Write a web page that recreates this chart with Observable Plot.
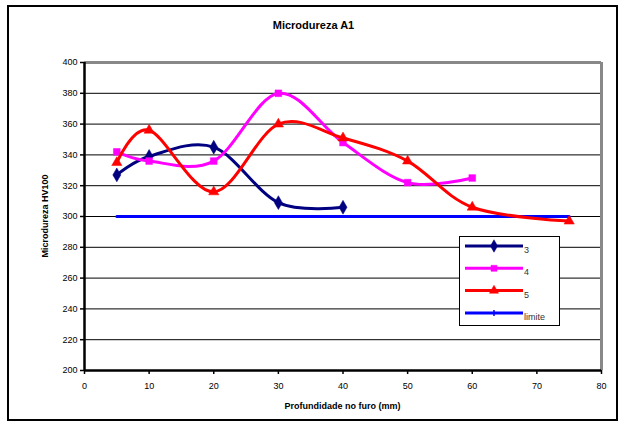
<!DOCTYPE html>
<html>
<head>
<meta charset="utf-8">
<script src="https://cdn.jsdelivr.net/npm/d3@7"></script>
<script src="https://cdn.jsdelivr.net/npm/@observablehq/plot@0.6"></script>
<style>
  body { margin: 0; background: #fff; font-family: "Liberation Sans", Arial, sans-serif; }
  #wrap { position: relative; width: 627px; height: 425px; overflow: hidden; background: #fff; }
  #frame { position: absolute; left: 7px; top: 5px; width: 611px; height: 416px; border: 2px solid #000; box-sizing: border-box; }
  #title { position: absolute; left: 0; top: 19px; width: 627px; text-align: center; font-weight: bold; font-size: 11px; }
  #ytitle { position: absolute; left: 45px; top: 216px; transform: translate(-50%, -50%) rotate(-90deg); white-space: nowrap; font-weight: bold; font-size: 9px; }
  #xtitle { position: absolute; left: 84px; width: 517px; top: 401px; text-align: center; font-weight: bold; font-size: 9px; }
  #chart { position: absolute; left: 0; top: 40px; }
  #legend { position: absolute; left: 459px; top: 236px; width: 101px; height: 90px; box-sizing: border-box; border: 1px solid #000; background: #fff; }
  #legend svg { display: block; }
</style>
</head>
<body>
<div id="wrap">
  <div id="frame"></div>
  <div id="title">Microdureza  A1</div>
  <div id="chart"></div>
  <div id="ytitle">Microdureza HV100</div>
  <div id="xtitle">Profundidade no furo (mm)</div>
  <div id="legend"></div>
</div>
<script>
// Depth along the bore (mm) and HV100 microhardness readings per specimen
const depth3 = [5, 10, 20, 30, 40];
const hv3    = [327, 339, 345, 309, 306];

const depth4 = [5, 10, 20, 30, 40, 50, 60];
const hv4    = [342, 336, 336, 380, 348, 322, 325];

const depth5 = [5, 10, 20, 30, 40, 50, 60, 75];
const hv5    = [335, 356, 316, 360, 351, 336, 306, 297];

// Reference limit
const depthLimit = [5, 10, 20, 30, 40, 50, 60, 75];
const hvLimit    = [300, 300, 300, 300, 300, 300, 300, 300];

const seriesNames = ["3", "4", "5", "limite"];
const seriesColors = ["#000080", "#ff00ff", "#ff0000", "#0000ff"];
const seriesSymbols = ["diamond", "square", "triangle", null];

const xTicks = [0, 10, 20, 30, 40, 50, 60, 70, 80];
const yTicks = [200, 220, 240, 260, 280, 300, 320, 340, 360, 380, 400];
const gridValues = [220, 240, 260, 280, 300, 320, 340, 360, 380];

const toRows = (xs, ys, name) => xs.map((d, i) => ({depth: d, hv: ys[i], serie: name}));
const s3 = toRows(depth3, hv3, "3");
const s4 = toRows(depth4, hv4, "4");
const s5 = toRows(depth5, hv5, "5");
const sL = toRows(depthLimit, hvLimit, "limite");

const lineOpts = (color) => ({x: "depth", y: "hv", stroke: color, strokeWidth: 3, curve: "cardinal"});
const dotOpts = (color, symbol, r) => ({x: "depth", y: "hv", fill: color, stroke: color, strokeWidth: 0.5, symbol, r});

const chart = Plot.plot({
  width: 627,
  height: 385,
  marginLeft: 84,
  marginRight: 26,
  marginTop: 22,
  marginBottom: 55,
  style: {fontFamily: "'Liberation Sans', Arial, sans-serif", fontSize: "9px", color: "#000", background: "transparent"},
  x: {domain: [0, 80]},
  y: {domain: [200, 400]},
  marks: [
    Plot.ruleY(gridValues, {stroke: "#000", strokeWidth: 1}),
    Plot.ruleY([400], {stroke: "#888", strokeWidth: 3}),
    Plot.ruleX([80], {stroke: "#888", strokeWidth: 3}),
    Plot.axisY({ticks: yTicks, tickSize: 4, tickPadding: 3, label: null, stroke: "#000", strokeWidth: 1.5}),
    Plot.axisX({ticks: xTicks, tickSize: 4, tickPadding: 8, label: null, stroke: "#000", strokeWidth: 1.5}),
    Plot.ruleX([0], {stroke: "#000", strokeWidth: 2.5}),
    Plot.ruleY([200], {stroke: "#000", strokeWidth: 2.5}),
    Plot.line(sL, lineOpts(seriesColors[3])),
    Plot.line(s3, lineOpts(seriesColors[0])),
    Plot.dot(s3, dotOpts(seriesColors[0], "diamond", 4.2)),
    Plot.line(s4, lineOpts(seriesColors[1])),
    Plot.dot(s4, dotOpts(seriesColors[1], "square", 3.8)),
    Plot.line(s5, lineOpts(seriesColors[2])),
    Plot.dot(s5, dotOpts(seriesColors[2], "triangle", 3.8))
  ]
});
document.getElementById("chart").appendChild(chart);

// Legend: line sample with marker, then the series name
const legend = d3.select("#legend").append("svg").attr("width", 99).attr("height", 88);
const symbolTypes = {diamond: d3.symbolDiamond, square: d3.symbolSquare, triangle: d3.symbolTriangle};
seriesNames.forEach((name, i) => {
  const y = 9 + i * 22.3;
  const g = legend.append("g").attr("transform", `translate(0,${y})`);
  g.append("line").attr("x1", 5).attr("x2", 63).attr("y1", 0).attr("y2", 0)
    .attr("stroke", seriesColors[i]).attr("stroke-width", 3);
  const sym = seriesSymbols[i];
  if (sym) {
    g.append("path").attr("transform", "translate(34,0)")
      .attr("d", d3.symbol(symbolTypes[sym], sym === "diamond" ? 45 : 36)())
      .attr("fill", seriesColors[i]).attr("stroke", seriesColors[i]).attr("stroke-width", 0.5);
  } else {
    g.append("line").attr("x1", 34).attr("x2", 34).attr("y1", -3).attr("y2", 3)
      .attr("stroke", seriesColors[i]).attr("stroke-width", 1.5);
  }
  g.append("text").attr("x", 64).attr("y", 7)
    .attr("font-family", "'Liberation Sans', Arial, sans-serif").attr("font-size", 9)
    .attr("fill", "#333").text(name);
});
</script>
</body>
</html>
